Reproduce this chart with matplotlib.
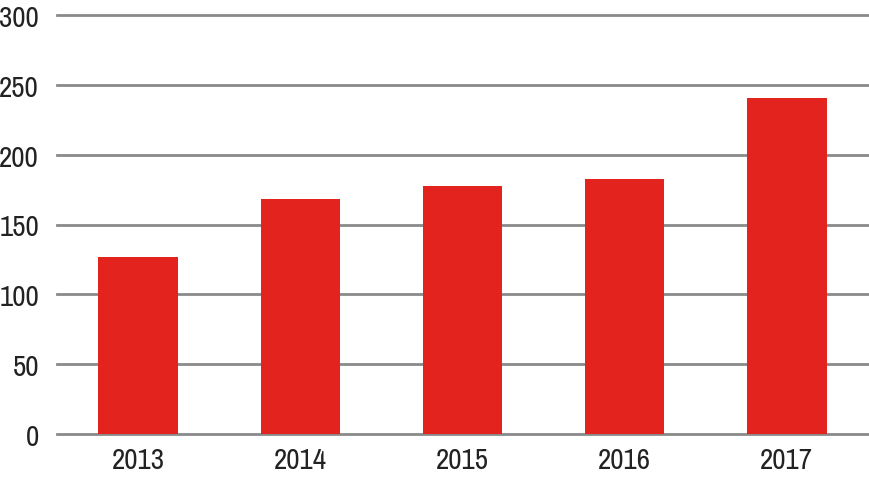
import matplotlib.pyplot as plt
from matplotlib import font_manager

years = ['2013', '2014', '2015', '2016', '2017']
values = [127, 168, 177.5, 182.5, 240.5]
yticks = [0, 50, 100, 150, 200, 250, 300]

# a narrow face looks closest to the original
names = sorted({f.name for f in font_manager.fontManager.ttflist})
narrow = [n for n in names if 'Narrow' in n or 'Condensed' in n]
fam = narrow[0] if narrow else 'DejaVu Sans'
plt.rcParams['font.family'] = [fam, 'DejaVu Sans']
plt.rcParams['font.stretch'] = 'condensed'
plt.rcParams['font.weight'] = 'light'

fig = plt.figure(figsize=(8.7, 4.81), dpi=100)
ax = fig.add_axes([57 / 870, 46 / 481, 811 / 870, 419 / 481])

x = range(len(years))
ax.bar(x, values, width=0.49, color='#e3231e', zorder=3)

ax.set_xlim(-0.5, 4.5)
ax.set_ylim(0, 300)
ax.set_yticks(yticks)
ax.set_xticks(list(x))
ax.set_xticklabels(years)
ax.grid(axis='y', color='#8a8a8a', linewidth=2, zorder=0)
for l in ax.get_ygridlines():
    l.set_clip_on(False)
ax.set_axisbelow(True)
for s in ax.spines.values():
    s.set_visible(False)
ax.tick_params(length=0, labelsize=21, labelcolor='#222222')
ax.tick_params(axis='y', pad=13)
ax.tick_params(axis='x', pad=9)

fig.savefig('out.png', dpi=100)
